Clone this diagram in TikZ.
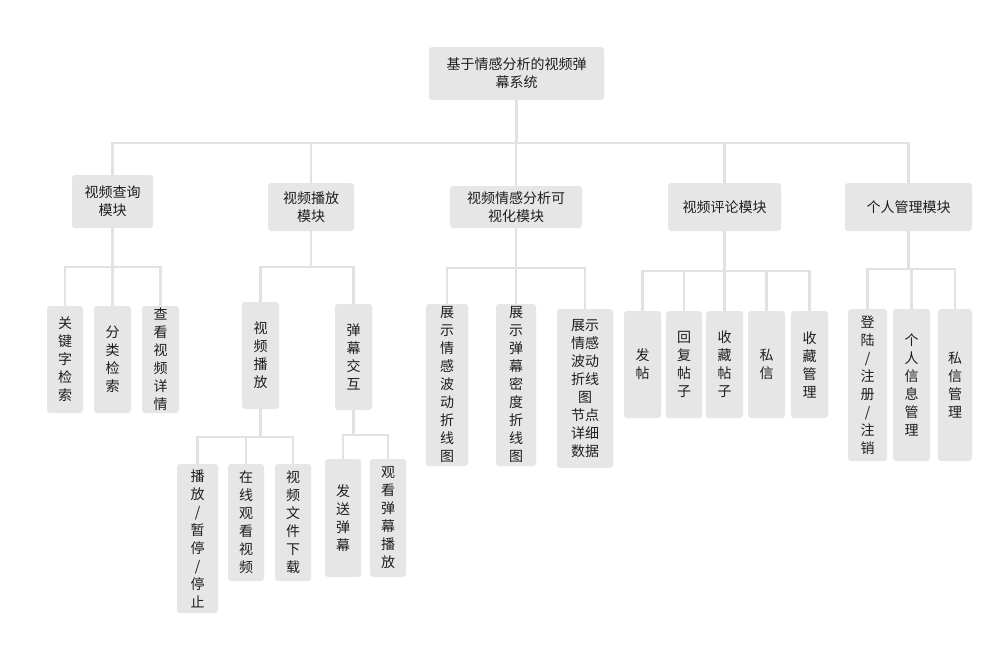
\documentclass[tikz,border=0pt]{standalone}
\usepackage{fontspec}
\setmainfont{Noto Sans CJK SC}
\begin{document}
\begin{tikzpicture}[x=1pt,y=-1pt,
  box/.style={fill=boxgray,rounded corners=3pt,inner sep=0pt,align=center,text=txt,
    font=\fontsize{14}{18}\selectfont},
  link/.style={draw=linegray,line width=2.2pt}]
\definecolor{boxgray}{RGB}{230,230,230}
\definecolor{linegray}{RGB}{226,226,226}
\definecolor{txt}{RGB}{30,30,30}
\useasboundingbox[fill=white] (0,0) rectangle (1004,645);
% root and level 1
\node[box,minimum width=175pt,minimum height=53pt] (root) at (516.5,73.5) {基于情感分析的视频弹\\幕系统};
\node[box,minimum width=81pt,minimum height=53pt] (A) at (112.5,201.5) {视频查询\\模块};
\node[box,minimum width=86pt,minimum height=48pt] (B) at (311,207) {视频播放\\模块};
\node[box,minimum width=132pt,minimum height=42pt] (C) at (516,207) {视频情感分析可\\视化模块};
\node[box,minimum width=113pt,minimum height=48pt] (D) at (724.5,207) {视频评论模块};
\node[box,minimum width=127pt,minimum height=48pt] (E) at (908.5,207) {个人管理模块};
% A children
\node[box,minimum width=36pt,minimum height=107pt] (a1) at (65,359.5) {关\\键\\字\\检\\索};
\node[box,minimum width=37pt,minimum height=107pt] (a2) at (112.5,359.5) {分\\类\\检\\索};
\node[box,minimum width=37pt,minimum height=107pt] (a3) at (160.5,359.5) {查\\看\\视\\频\\详\\情};
% B children
\node[box,minimum width=37pt,minimum height=107pt] (b1) at (260.5,355.5) {视\\频\\播\\放};
\node[box,minimum width=37pt,minimum height=106pt] (b2) at (353.5,357) {弹\\幕\\交\\互};
\node[box,minimum width=41pt,minimum height=149pt] (b11) at (197.5,538.5) {播\\放\\/\\暂\\停\\/\\停\\止};
\node[box,minimum width=36pt,minimum height=117pt] (b12) at (246,522.5) {在\\线\\观\\看\\视\\频};
\node[box,minimum width=36pt,minimum height=117pt] (b13) at (293,522.5) {视\\频\\文\\件\\下\\载};
\node[box,minimum width=36pt,minimum height=118pt] (b21) at (343,518) {发\\送\\弹\\幕};
\node[box,minimum width=36pt,minimum height=118pt] (b22) at (388,518) {观\\看\\弹\\幕\\播\\放};
% C children
\node[box,minimum width=42pt,minimum height=162pt] (c1) at (447,385) {展\\示\\情\\感\\波\\动\\折\\线\\图};
\node[box,minimum width=40pt,minimum height=162pt] (c2) at (516,385) {展\\示\\弹\\幕\\密\\度\\折\\线\\图};
\node[box,minimum width=56pt,minimum height=159pt] (c3) at (585,388.5) {展示\\情感\\波动\\折线\\图\\节点\\详细\\数据};
% D children
\node[box,minimum width=37pt,minimum height=107pt] (d1) at (642.5,364.5) {发\\帖};
\node[box,minimum width=36pt,minimum height=107pt] (d2) at (684,364.5) {回\\复\\帖\\子};
\node[box,minimum width=37pt,minimum height=107pt] (d3) at (724.5,364.5) {收\\藏\\帖\\子};
\node[box,minimum width=37pt,minimum height=107pt] (d4) at (766.5,364.5) {私\\信};
\node[box,minimum width=37pt,minimum height=107pt] (d5) at (809.5,364.5) {收\\藏\\管\\理};
% E children
\node[box,minimum width=39pt,minimum height=152pt] (e1) at (867.5,385) {登\\陆\\/\\注\\册\\/\\注\\销};
\node[box,minimum width=37pt,minimum height=152pt] (e2) at (911.5,385) {个\\人\\信\\息\\管\\理};
\node[box,minimum width=34pt,minimum height=152pt] (e3) at (955,385) {私\\信\\管\\理};
% bus coordinates
\coordinate (bus0) at (0,143);
\coordinate (busA) at (0,267);
\coordinate (busB) at (0,267);
\coordinate (busB1) at (0,437);
\coordinate (busB2) at (0,435);
\coordinate (busC) at (0,268);
\coordinate (busD) at (0,271);
\coordinate (busE) at (0,269);
% connectors
\foreach \n in {A,B,C,D,E}
  \draw[link] (root.south) -- (root.south |- bus0) -| (\n.north);
\foreach \n in {a1,a2,a3}
  \draw[link] (A.south) -- (A.south |- busA) -| (\n.north);
\foreach \n in {b1,b2}
  \draw[link] (B.south) -- (B.south |- busB) -| (\n.north);
\foreach \n in {b11,b12,b13}
  \draw[link] (b1.south) -- (b1.south |- busB1) -| (\n.north);
\foreach \n in {b21,b22}
  \draw[link] (b2.south) -- (b2.south |- busB2) -| (\n.north);
\foreach \n in {c1,c2,c3}
  \draw[link] (C.south) -- (C.south |- busC) -| (\n.north);
\foreach \n in {d1,d2,d3,d4,d5}
  \draw[link] (D.south) -- (D.south |- busD) -| (\n.north);
\foreach \n in {e1,e2,e3}
  \draw[link] (E.south) -- (E.south |- busE) -| (\n.north);
\end{tikzpicture}
\end{document}
